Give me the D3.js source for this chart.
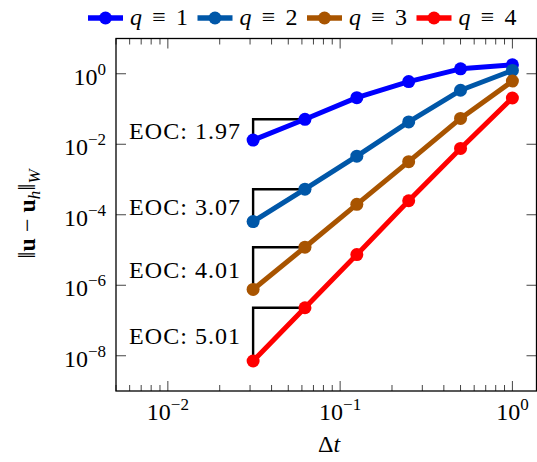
<!DOCTYPE html>
<html>
<head>
<meta charset="utf-8">
<script src="https://cdn.jsdelivr.net/npm/d3@7"></script>
<style>
  html, body { margin: 0; padding: 0; background: #fff; }
  svg { display: block; }
  text { font-family: "Liberation Serif", "DejaVu Serif", serif; fill: #000; }
</style>
</head>
<body>
<svg id="chart" width="537" height="462"></svg>
<script>
// ---- data ----
const dtValues = [1, 0.5, 0.25, 0.125, 0.0625, 0.03125];
const seriesNames = ["1", "2", "3", "4"];
const errQ1 = [1.8, 1.38, 0.6, 0.21, 0.051, 0.0131];
const errQ2 = [1.24, 0.34, 0.043, 4.6e-3, 5.3e-4, 6.4e-5];
const errQ3 = [0.62, 0.054, 3.2e-3, 1.97e-4, 1.2e-5, 7.6e-7];
const errQ4 = [0.205, 7.6e-3, 2.5e-4, 7.4e-6, 2.3e-7, 7.1e-9];
const eocLabels = ["1.97", "3.07", "4.01", "5.01"];
const seriesColors = ["#0000ff", "#0057a8", "#a85400", "#ff0000"];
const xTickExps = [-2, -1, 0];
const yTickExps = [0, -2, -4, -6, -8];

const allSeries = [errQ1, errQ2, errQ3, errQ4];

// ---- layout ----
const svg = d3.select("#chart");
const L = 116, R = 536.5, T = 38.5, B = 391;
const x = d3.scaleLog().domain([0.005, 1.38]).range([L, R]);
const y = d3.scaleLog().domain([1e-9, 1e1]).range([B, T]);

const axisG = svg.append("g");

// minor x ticks
const xMinor = [];
for (let e = -3; e <= 0; e++) for (let m = 2; m <= 9; m++) {
  const v = m * Math.pow(10, e);
  if (v >= 0.005 && v <= 1.38) xMinor.push(v);
}
const xMajor = xTickExps.map(e => Math.pow(10, e));
const yMajor = yTickExps.map(e => Math.pow(10, e));

function tickLine(x1, y1, x2, y2) {
  axisG.append("line").attr("x1", x1).attr("y1", y1).attr("x2", x2).attr("y2", y2)
    .attr("stroke", "#444").attr("stroke-width", 1);
}
xMinor.forEach(v => {
  const px = x(v);
  tickLine(px, B, px, B - 6);
  tickLine(px, T, px, T + 6);
});
xMajor.forEach(v => {
  const px = x(v);
  tickLine(px, B, px, B - 10);
  tickLine(px, T, px, T + 10);
});
yMajor.forEach(v => {
  const py = y(v);
  tickLine(L, py, L + 10, py);
  tickLine(R, py, R - 10, py);
});

// frame
svg.append("rect").attr("x", L).attr("y", T).attr("width", R - L).attr("height", B - T)
  .attr("fill", "none").attr("stroke", "#000").attr("stroke-width", 1.3);

// tick labels
function powLabel(sel, e) {
  sel.append("tspan").text("10");
  sel.append("tspan").attr("font-size", 17).attr("dy", -10)
    .text(e < 0 ? "\u2212" + (-e) : String(e));
}
xTickExps.forEach(e => {
  const t = svg.append("text").attr("x", x(Math.pow(10, e))).attr("y", 420)
    .attr("text-anchor", "middle").attr("font-size", 24);
  powLabel(t, e);
});
yTickExps.forEach(e => {
  const t = svg.append("text").attr("x", 106).attr("y", y(Math.pow(10, e)) + 11)
    .attr("text-anchor", "end").attr("font-size", 24);
  powLabel(t, e);
});

// axis labels
const xl = svg.append("text").attr("x", 329).attr("y", 452)
  .attr("text-anchor", "middle").attr("font-size", 24);
xl.append("tspan").text("\u0394");
xl.append("tspan").attr("font-style", "italic").text("t");

const yl = svg.append("text").attr("transform", "translate(35,214) rotate(-90)")
  .attr("text-anchor", "middle").attr("font-size", 24);
yl.append("tspan").attr("font-size", 26).text("\u2016");
yl.append("tspan").attr("font-weight", "bold").text("u");
yl.append("tspan").text(" \u2212 ");
yl.append("tspan").attr("font-weight", "bold").text("u");
yl.append("tspan").attr("font-style", "italic").attr("font-size", 17).attr("dy", 5).text("h");
yl.append("tspan").attr("dy", -5).attr("font-size", 26).text("\u2016");
yl.append("tspan").attr("font-style", "italic").attr("font-size", 17).attr("dy", 5).text("W");

// EOC triangles and labels
allSeries.forEach((s, i) => {
  const n = s.length;
  const xa = x(dtValues[n - 1]), ya = y(s[n - 1]);
  const xb = x(dtValues[n - 2]), yb = y(s[n - 2]);
  svg.append("path").attr("d", `M${xa},${ya}L${xa},${yb}L${xb},${yb}`)
    .attr("fill", "none").attr("stroke", "#000").attr("stroke-width", 2.4);
  svg.append("text").attr("x", xa - 13).attr("y", (ya + yb) / 2 + 9.5)
    .attr("text-anchor", "end").attr("font-size", 24)
    .attr("textLength", 111).attr("lengthAdjust", "spacing")
    .text("EOC: " + eocLabels[i]);
});

// series
const line = d3.line().x((d, j) => x(dtValues[j])).y(d => y(d));
allSeries.forEach((s, i) => {
  svg.append("path").datum(s).attr("d", line)
    .attr("fill", "none").attr("stroke", seriesColors[i]).attr("stroke-width", 5)
    .attr("stroke-linejoin", "round");
  svg.append("g").selectAll("circle").data(s).join("circle")
    .attr("cx", (d, j) => x(dtValues[j])).attr("cy", d => y(d)).attr("r", 6.5)
    .attr("fill", seriesColors[i]);
});

// legend
let lx = 88;
const ly = 18;
seriesNames.forEach((name, i) => {
  svg.append("line").attr("x1", lx).attr("x2", lx + 35).attr("y1", ly).attr("y2", ly)
    .attr("stroke", seriesColors[i]).attr("stroke-width", 5.5);
  svg.append("circle").attr("cx", lx + 17.5).attr("cy", ly).attr("r", 6.5).attr("fill", seriesColors[i]);
  const t = svg.append("text").attr("x", lx + 42).attr("y", ly + 7).attr("font-size", 24)
    .attr("textLength", 58).attr("lengthAdjust", "spacing");
  t.append("tspan").attr("font-style", "italic").text("q");
  t.append("tspan").text(" \u2261 " + name);
  lx = lx + 42 + 58 + 9.5;
});
</script>
</body>
</html>
